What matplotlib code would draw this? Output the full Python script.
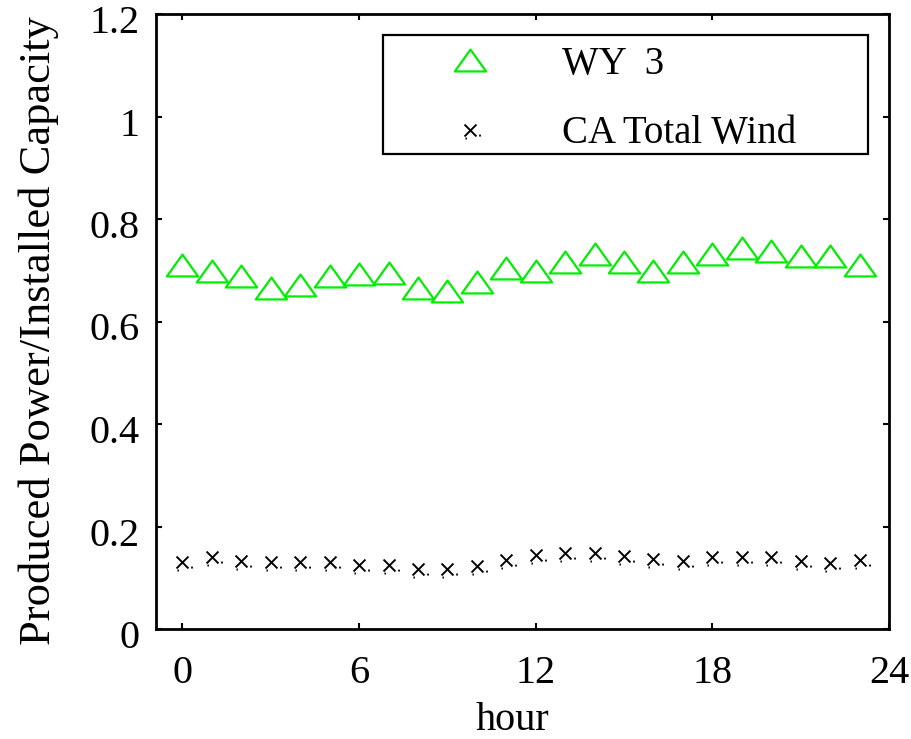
import matplotlib
matplotlib.use('Agg')
import matplotlib.pyplot as plt
from matplotlib.path import Path
from matplotlib.patches import Rectangle
from matplotlib.transforms import ScaledTranslation

# ---- data ----
hours = list(range(24))
wy3 = [0.710, 0.699, 0.688, 0.665, 0.672, 0.688, 0.693, 0.694,
       0.665, 0.660, 0.677, 0.704, 0.699, 0.716, 0.732, 0.716,
       0.699, 0.716, 0.732, 0.743, 0.738, 0.727, 0.727, 0.710]
ca_total = [0.131, 0.140, 0.133, 0.130, 0.131, 0.131, 0.124, 0.125,
            0.117, 0.117, 0.123, 0.135, 0.144, 0.149, 0.149, 0.143,
            0.136, 0.133, 0.141, 0.141, 0.141, 0.133, 0.128, 0.135]
x_ticks = [0, 6, 12, 18, 24]
y_ticks = [0, 0.2, 0.4, 0.6, 0.8, 1.0, 1.2]
y_ticklabels = ['0', '0.2', '0.4', '0.6', '0.8', '1', '1.2']
series_labels = ['WY  3', 'CA Total Wind']

plt.rcParams['font.family'] = ['Liberation Serif', 'DejaVu Serif']

W, H = 911, 739
fig = plt.figure(figsize=(W / 100, H / 100), dpi=100)
ax = fig.add_axes([156 / W, 1 - 629 / H, (889 - 156) / W, (629 - 14) / H])

# MATLAB-like wide triangle marker
tri = Path([(-1, -0.7), (1, -0.7), (0, 0.7), (-1, -0.7)],
           [Path.MOVETO, Path.LINETO, Path.LINETO, Path.CLOSEPOLY])
# x marker with small dots
xm = Path([(-1, -1), (1, 1), (-1, 1), (1, -1),
           (1.45, -0.85), (1.75, -0.85), (-0.85, -1.35), (-0.6, -1.35)],
          [Path.MOVETO, Path.LINETO, Path.MOVETO, Path.LINETO,
           Path.MOVETO, Path.LINETO, Path.MOVETO, Path.LINETO])

green = '#00ee00'
ax.plot(hours, wy3, linestyle='none', marker=tri, markersize=22.5,
        markerfacecolor='none', markeredgecolor=green, markeredgewidth=1.6,
        label=series_labels[0])
ax.plot(hours, ca_total, linestyle='none', marker=xm, markersize=15,
        markerfacecolor='none', markeredgecolor='black', markeredgewidth=1.4,
        label=series_labels[1])

ax.set_xlim(-0.9, 24)
ax.set_ylim(0, 1.2)
ax.set_xticks(x_ticks)
ax.set_xticklabels([str(t) for t in x_ticks])
ax.set_yticks(y_ticks)
ax.set_yticklabels(y_ticklabels)

for sp in ax.spines.values():
    sp.set_linewidth(2.0)
ax.tick_params(direction='in', length=4, width=1.5, labelsize=29,
               top=True, right=True)
ax.tick_params(axis='x', pad=19)
ax.tick_params(axis='y', pad=12)

# MATLAB places y tick labels slightly lower than the tick
off = ScaledTranslation(0, -5 / 100, fig.dpi_scale_trans)
for lab in ax.get_yticklabels():
    lab.set_transform(lab.get_transform() + off)

ax.set_xlabel('hour', fontsize=29)
ax.xaxis.set_label_coords((512 - 156) / 733, -0.118)
ax.set_ylabel('Produced Power/Installed Capacity', fontsize=32)
ax.yaxis.set_label_coords(-0.133, (629 - 331) / 615)

# legend (frame drawn separately like MATLAB box)
leg = ax.legend(loc='upper left', frameon=False, fontsize=28,
                bbox_to_anchor=(431 / W, 1 - 46 / H),
                bbox_transform=fig.transFigure, borderpad=0,
                borderaxespad=0, handlelength=2.0, handletextpad=1.36,
                labelspacing=0.83, numpoints=1)
fig.patches.append(Rectangle((383 / W, 1 - 154 / H), (868 - 383) / W,
                             (154 - 35) / H, transform=fig.transFigure,
                             fill=False, edgecolor='black', linewidth=1.6,
                             zorder=5))

fig.savefig('out.png', dpi=100)
